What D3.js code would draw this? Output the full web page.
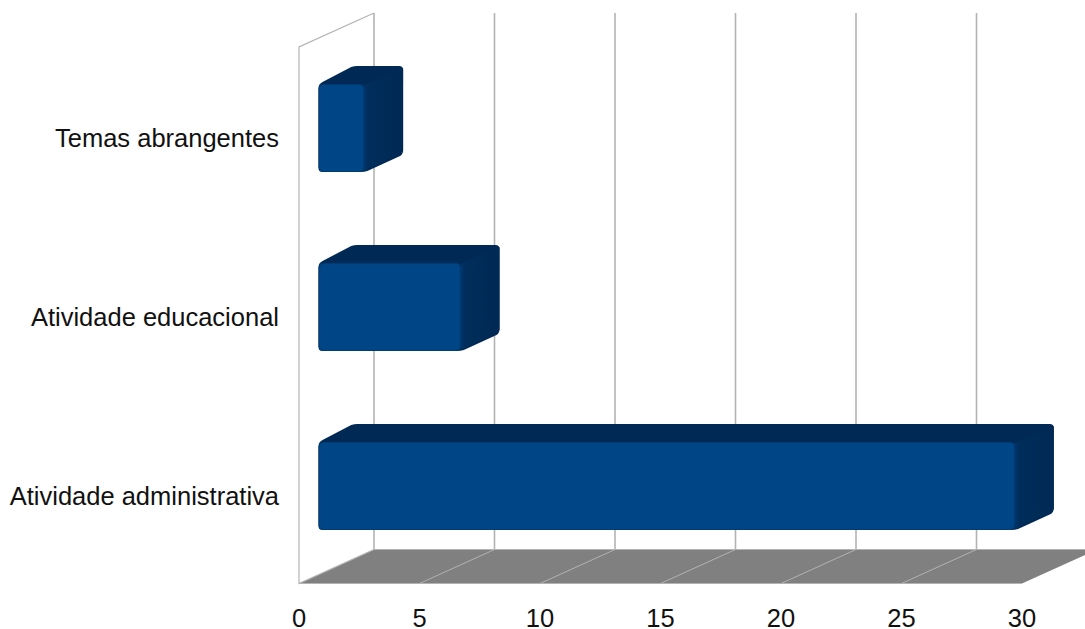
<!DOCTYPE html>
<html><head><meta charset="utf-8">
<style>html,body{margin:0;padding:0;background:#fff;overflow:hidden}svg{display:block}text{font-family:"Liberation Sans",Arial,sans-serif;fill:#111}</style>
<script src="https://cdn.jsdelivr.net/npm/d3@7"></script></head><body><svg id="c" width="1085" height="629"></svg>
<script>
const categories = ["Temas abrangentes","Atividade educacional","Atividade administrativa"];
const values = [2,6,29];
const tickValues = [0,5,10,15,20,25,30];

const svg = d3.select("#c");
const x = d3.scaleLinear().domain([0,30]).range([299,1022]);
const y = d3.scalePoint().domain(categories).range([128,486]);
const wallDepth = {dx:75, dy:-34};
const floorY = 583.5, wallTopY = 47;
const barInset = {dx:20, dy:0}, barDepth = {dx:38.7, dy:-18}, barH = 88, barLeft = 318.5, r = 4;

const defs = svg.append("defs");
const g1 = defs.append("linearGradient").attr("id","side").attr("x1",0).attr("x2",1).attr("y1",0).attr("y2",0);
[[0,"#00376c"],[0.1,"#002d5b"],[1,"#002a55"]].forEach(([o,c])=>g1.append("stop").attr("offset",o).attr("stop-color",c));
const f = defs.append("filter").attr("id","soft").attr("x","-5%").attr("y","-5%").attr("width","110%").attr("height","110%");
f.append("feGaussianBlur").attr("stdDeviation",0.7);

// floor
svg.append("path").attr("fill","#808080")
  .attr("d",d3.line()([[x(0),floorY],[x(30),floorY],[x(30)+wallDepth.dx,floorY+wallDepth.dy],[x(0)+wallDepth.dx,floorY+wallDepth.dy]]));
svg.append("line").attr("x1",x(0)).attr("x2",x(30)).attr("y1",floorY).attr("y2",floorY).attr("stroke","#b3b3b3").attr("stroke-width",1.2);
svg.append("line").attr("x1",x(0)+wallDepth.dx).attr("x2",1085).attr("y1",floorY+wallDepth.dy).attr("y2",floorY+wallDepth.dy).attr("stroke","#b3b3b3");
// floor grid
svg.append("g").selectAll("line").data(tickValues.filter(d=>d>0&&d<30)).join("line")
  .attr("x1",d=>x(d)).attr("y1",floorY).attr("x2",d=>x(d)+wallDepth.dx).attr("y2",floorY+wallDepth.dy)
  .attr("stroke","#b3b3b3").attr("stroke-width",1);
// back grid
svg.append("g").selectAll("line").data(tickValues.slice(0,-1)).join("line")
  .attr("x1",d=>x(d)+wallDepth.dx).attr("x2",d=>x(d)+wallDepth.dx)
  .attr("y1",wallTopY+wallDepth.dy).attr("y2",floorY+wallDepth.dy)
  .attr("stroke","#b3b3b3").attr("stroke-width",1.6);
// side wall
svg.append("path").attr("fill","none").attr("stroke","#b3b3b3").attr("stroke-width",1.2)
  .attr("d",d3.line()([[x(0)+wallDepth.dx,wallTopY+wallDepth.dy],[x(0),wallTopY],[x(0),floorY],[x(0)+wallDepth.dx,floorY+wallDepth.dy]]));

// bars
const bars = svg.append("g").selectAll("g").data(categories).join("g");
bars.each(function(cat,i){
  const g = d3.select(this);
  const t = y(cat)-barH/2, b = y(cat)+barH/2;
  const R = x(values[i])+barInset.dx-2.8, L = barLeft;
  const dx = barDepth.dx, dy = barDepth.dy;
  const sil = `M${L},${t+r} Q${L},${t} ${L+r},${t-2} L${L+dx-6},${t+dy+1} Q${L+dx-3},${t+dy} ${L+dx},${t+dy} L${R+dx-r},${t+dy} Q${R+dx},${t+dy} ${R+dx},${t+dy+r} L${R+dx},${b+dy-r} Q${R+dx},${b+dy} ${R+dx-3},${b+dy+2} L${R+3},${b-1} Q${R},${b} ${R-r},${b} L${L+r},${b} Q${L},${b} ${L},${b-r} Z`;
  g.append("path").attr("d",sil).attr("fill","#002a55");
  g.append("path").attr("d",`M${R},${t+1} L${R+dx},${t+dy+2} L${R+dx},${b+dy-3} L${R},${b-1} Z`).attr("fill","url(#side)");
  g.append("rect").attr("x",L+0.5).attr("y",t+0.5).attr("width",R-L-1).attr("height",barH-1).attr("rx",r).attr("fill","#004586").attr("stroke","#003a72").attr("stroke-width",1).attr("filter","url(#soft)");
});

// labels
svg.append("g").selectAll("text").data(categories).join("text")
  .attr("x",279).attr("y",d=>y(d)+19).attr("text-anchor","end").attr("font-size",25.5).text(d=>d);
svg.append("g").selectAll("text").data(tickValues).join("text")
  .attr("x",d=>x(d)).attr("y",627).attr("text-anchor","middle").attr("font-size",25.5).text(d=>d);
</script></body></html>
